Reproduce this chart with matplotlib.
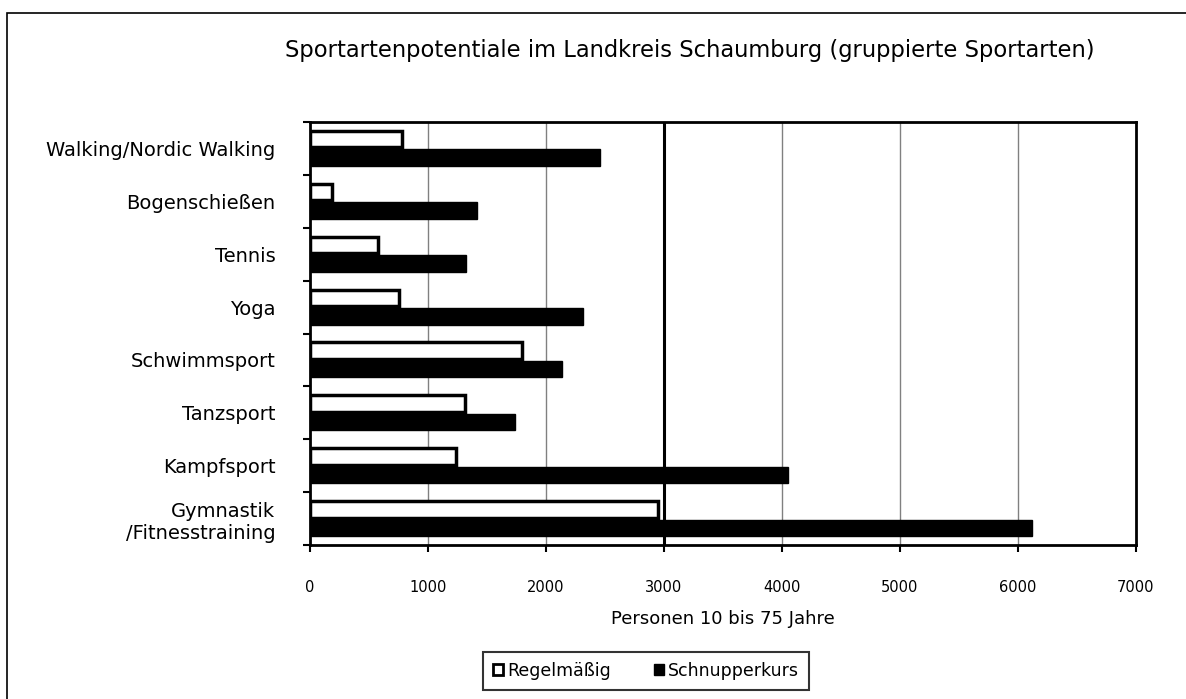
import numpy as np
import matplotlib.pyplot as plt
from matplotlib.patches import Rectangle, Patch

plt.rcParams['font.family'] = ['DejaVu Sans']

kategorien = ['Walking/Nordic Walking', 'Bogenschießen', 'Tennis', 'Yoga',
              'Schwimmsport', 'Tanzsport', 'Kampfsport',
              'Gymnastik\n/Fitnesstraining']
regelmaessig = [780, 190, 580, 750, 1800, 1310, 1235, 2950]
schnupperkurs = [2460, 1415, 1320, 2315, 2135, 1735, 4055, 6120]
x_ticks = [0, 1000, 2000, 3000, 4000, 5000, 6000, 7000]
x_labels = ['0', '1000', '2000', '3000', '4000', '5000', '6000', '7000']

fig = plt.figure(figsize=(11.86, 6.99), dpi=100)
fig.patches.append(Rectangle((7 / 1186, -0.01), 1.1, 1 - 13 / 699 + 0.01,
                             transform=fig.transFigure, fill=False,
                             edgecolor='black', linewidth=1.2))
ax = fig.add_axes([310 / 1186, 1 - 545 / 699, 826 / 1186, 423 / 699])

pos = np.arange(len(kategorien))[::-1]
h = 0.31
ax.barh(pos + h / 2 + 0.02, regelmaessig, height=h, color='white',
        edgecolor='black', linewidth=2.5, label='Regelmäßig')
ax.barh(pos - h / 2 - 0.02, schnupperkurs, height=h, color='black',
        edgecolor='black', linewidth=1, label='Schnupperkurs')

ax.set_xlim(0, 7000)
ax.set_ylim(-0.5, len(kategorien) - 0.5)
ax.set_xticks(x_ticks)
ax.set_xticklabels(x_labels, fontsize=10.5)
ax.set_yticks(pos)
ax.set_yticklabels(kategorien, fontsize=14, linespacing=1.2)
ax.set_yticks(np.arange(len(kategorien) + 1) - 0.5, minor=True)
ax.tick_params(axis='y', which='major', length=0, pad=25)
ax.tick_params(axis='y', which='minor', length=5, width=1.5)
ax.tick_params(axis='x', length=5, width=1.5, pad=20)

for v in x_ticks[1:-1]:
    if v == 3000:
        ax.axvline(v, color='black', linewidth=2.2, zorder=0.5)
    else:
        ax.axvline(v, color='#808080', linewidth=1, zorder=0.5)
for s in ax.spines.values():
    s.set_linewidth(2)

ax.set_xlabel('Personen 10 bis 75 Jahre', fontsize=13, labelpad=11)
fig.text(0.582, 1 - 50 / 699, 'Sportartenpotentiale im Landkreis Schaumburg (gruppierte Sportarten)',
         ha='center', va='center', fontsize=16.3)

handles = [Patch(facecolor='white', edgecolor='black', linewidth=2),
           Patch(facecolor='black', edgecolor='black')]
leg = fig.legend(handles, ['Regelmäßig', 'Schnupperkurs'], loc='center',
                 bbox_to_anchor=(646 / 1186, 1 - 671 / 699), ncol=2,
                 fontsize=12.5, frameon=True, fancybox=False,
                 handlelength=0.6, handleheight=0.6, handletextpad=0.2,
                 columnspacing=2.5, borderpad=0.55, borderaxespad=0)
leg.get_frame().set_edgecolor('black')
leg.get_frame().set_linewidth(1.5)

fig.savefig('out.png', dpi=100)
